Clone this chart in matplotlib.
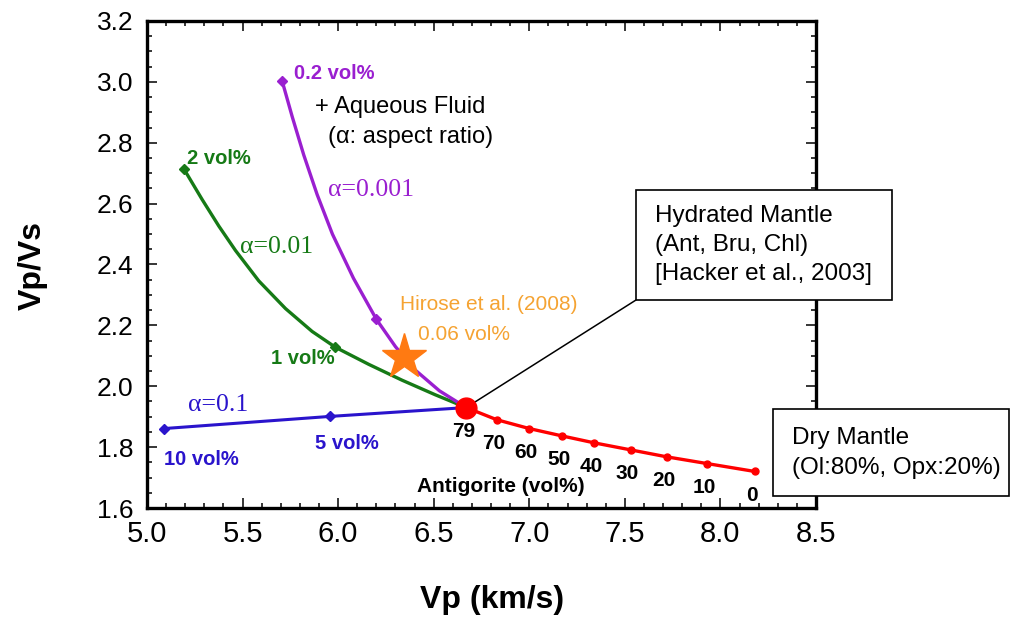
import matplotlib
matplotlib.use('Agg')
import matplotlib.pyplot as plt
from matplotlib.patches import Rectangle
from matplotlib.ticker import MultipleLocator

plt.rcParams['font.family'] = ['Liberation Sans', 'DejaVu Sans']
SERIF = ['Liberation Serif', 'DejaVu Serif']

W, H = 1014, 621

# dry mantle (Ol 80 / Opx 20) -> hydrated mantle, antigorite content in vol%
antigorite = [79, 70, 60, 50, 40, 30, 20, 10, 0]
vp_ant = [6.67, 6.83, 7.00, 7.17, 7.34, 7.53, 7.72, 7.93, 8.18]
vpvs_ant = [1.930, 1.890, 1.861, 1.837, 1.814, 1.791, 1.768, 1.746, 1.720]

# hydrated mantle + aqueous fluid, three aspect ratios
vp_a0001 = [5.707, 5.76, 5.82, 5.89, 5.97, 6.08, 6.20, 6.30, 6.40, 6.53, 6.67]
vpvs_a0001 = [3.003, 2.885, 2.760, 2.630, 2.500, 2.355, 2.220, 2.130, 2.055, 1.985, 1.930]
mark_a0001 = [0, 6]

vp_a001 = [5.193, 5.289, 5.376, 5.463, 5.585, 5.725, 5.864, 5.986, 6.160, 6.334, 6.508, 6.67]
vpvs_a001 = [2.714, 2.613, 2.526, 2.446, 2.346, 2.255, 2.180, 2.128, 2.072, 2.020, 1.972, 1.930]
mark_a001 = [0, 7]

vp_a01 = [5.089, 5.960, 6.67]
vpvs_a01 = [1.861, 1.901, 1.930]
mark_a01 = [0, 1]

# Hirose et al. (2008)
vp_hirose = 6.343
vpvs_hirose = 2.095

RED = '#ff0000'
BLUE = '#2a14cc'
PURPLE = '#9a1fd0'
GREEN = '#167a16'
ORANGE = '#ff7a12'
HIROSE = '#f5a332'


def fig_xy(px, py):
    return px / W, 1 - py / H


fig = plt.figure(figsize=(W / 100, H / 100), dpi=100)
ax = fig.add_axes([147 / W, 1 - 508 / H, (816 - 147) / W, (508 - 21) / H])

ax.plot(vp_a01, vpvs_a01, color=BLUE, lw=2.2, marker='D', ms=5.5, markevery=mark_a01, zorder=3)
ax.plot(vp_a001, vpvs_a001, color=GREEN, lw=2.4, marker='D', ms=5.5, markevery=mark_a001, zorder=3)
ax.plot(vp_a0001, vpvs_a0001, color=PURPLE, lw=2.4, marker='D', ms=5.5, markevery=mark_a0001, zorder=3)
ax.plot(vp_ant, vpvs_ant, color=RED, lw=2.4, marker='o', ms=5, zorder=4)
ax.plot(vp_ant[0], vpvs_ant[0], 'o', color=RED, ms=15, zorder=6)
ax.plot(vp_hirose, vpvs_hirose, '*', color=ORANGE, ms=34, mec=ORANGE, zorder=5)

for a, x, y in zip(antigorite, vp_ant, vpvs_ant):
    ax.annotate(str(a), (x, y), xytext=(-3, -24), textcoords='offset pixels',
                ha='center', va='center', fontsize=15, fontweight='bold')
ax.text(*fig_xy(501, 487), 'Antigorite (vol%)', transform=fig.transFigure,
        ha='center', va='center', fontsize=15, fontweight='bold')

# vol% labels next to the end markers
ax.annotate('0.2 vol%', (vp_a0001[0], vpvs_a0001[0]), xytext=(12, 7), textcoords='offset pixels',
            ha='left', va='center', fontsize=14.5, fontweight='bold', color=PURPLE)
ax.annotate('2 vol%', (vp_a001[0], vpvs_a001[0]), xytext=(3, 10), textcoords='offset pixels',
            ha='left', va='center', fontsize=14.5, fontweight='bold', color=GREEN)
ax.annotate('1 vol%', (vp_a001[7], vpvs_a001[7]), xytext=(-1, -11), textcoords='offset pixels',
            ha='right', va='center', fontsize=14.5, fontweight='bold', color=GREEN)
ax.annotate('5 vol%', (vp_a01[1], vpvs_a01[1]), xytext=(-15, -27), textcoords='offset pixels',
            ha='left', va='center', fontsize=14.5, fontweight='bold', color=BLUE)
ax.annotate('10 vol%', (vp_a01[0], vpvs_a01[0]), xytext=(0, -31), textcoords='offset pixels',
            ha='left', va='center', fontsize=14.5, fontweight='bold', color=BLUE)

# aspect ratio labels
fig.text(*fig_xy(328, 190), 'α=0.001', ha='left', va='center', fontsize=18.5, color=PURPLE, family=SERIF)
fig.text(*fig_xy(240, 247), 'α=0.01', ha='left', va='center', fontsize=18.5, color=GREEN, family=SERIF)
fig.text(*fig_xy(188, 405), 'α=0.1', ha='left', va='center', fontsize=18.5, color=BLUE, family=SERIF)

fig.text(*fig_xy(315, 107), '+ Aqueous Fluid', ha='left', va='center', fontsize=17)
fig.text(*fig_xy(328, 137), '(α: aspect ratio)', ha='left', va='center', fontsize=17)

fig.text(*fig_xy(400, 305), 'Hirose et al. (2008)', ha='left', va='center', fontsize=15, color=HIROSE)
fig.text(*fig_xy(418, 335), '0.06 vol%', ha='left', va='center', fontsize=15, color=HIROSE)

# leader line from the hydrated mantle point to its box
ax.annotate('', xy=(vp_ant[0], vpvs_ant[0]), xytext=fig_xy(636, 300), textcoords='figure fraction',
            arrowprops=dict(arrowstyle='-', lw=1.1, color='black', shrinkA=0, shrinkB=0), zorder=2)

# text boxes
for x0, y0, x1, y1 in [(636, 190, 892, 300), (773, 409, 1009, 496)]:
    fx, fy = fig_xy(x0, y1)
    fig.add_artist(Rectangle((fx, fy), (x1 - x0) / W, (y1 - y0) / H, transform=fig.transFigure,
                             facecolor='white', edgecolor='black', lw=1.2, zorder=10))
fig.text(*fig_xy(655, 216), 'Hydrated Mantle', ha='left', va='center', fontsize=17.5, zorder=11)
fig.text(*fig_xy(655, 245), '(Ant, Bru, Chl)', ha='left', va='center', fontsize=17.5, zorder=11)
fig.text(*fig_xy(655, 274), '[Hacker et al., 2003]', ha='left', va='center', fontsize=17.5, zorder=11)
fig.text(*fig_xy(792, 438), 'Dry Mantle', ha='left', va='center', fontsize=17.5, zorder=11)
fig.text(*fig_xy(792, 468), '(Ol:80%, Opx:20%)', ha='left', va='center', fontsize=17.5, zorder=11)

ax.set_xlim(5.0, 8.5)
ax.set_ylim(1.6, 3.2)
ax.xaxis.set_major_locator(MultipleLocator(0.5))
ax.xaxis.set_minor_locator(MultipleLocator(0.1))
ax.yaxis.set_major_locator(MultipleLocator(0.2))
ax.yaxis.set_minor_locator(MultipleLocator(0.05))
ax.tick_params(which='both', direction='in', top=True, right=True, width=1.1)
ax.tick_params(which='major', length=7)
ax.tick_params(which='minor', length=3.5)
ax.tick_params(axis='x', labelsize=21, pad=9)
ax.tick_params(axis='y', labelsize=19, pad=10)
ax.xaxis.set_major_formatter(plt.FormatStrFormatter('%.1f'))
ax.yaxis.set_major_formatter(plt.FormatStrFormatter('%.1f'))
for s in ax.spines.values():
    s.set_linewidth(2.4)

fig.text(*fig_xy(492, 600), 'Vp (km/s)', ha='center', va='center', fontsize=23, fontweight='bold')
fig.text(*fig_xy(33, 265), 'Vp/Vs', ha='center', va='center', rotation=90, fontsize=23, fontweight='bold')

fig.savefig('out.png', dpi=100)
